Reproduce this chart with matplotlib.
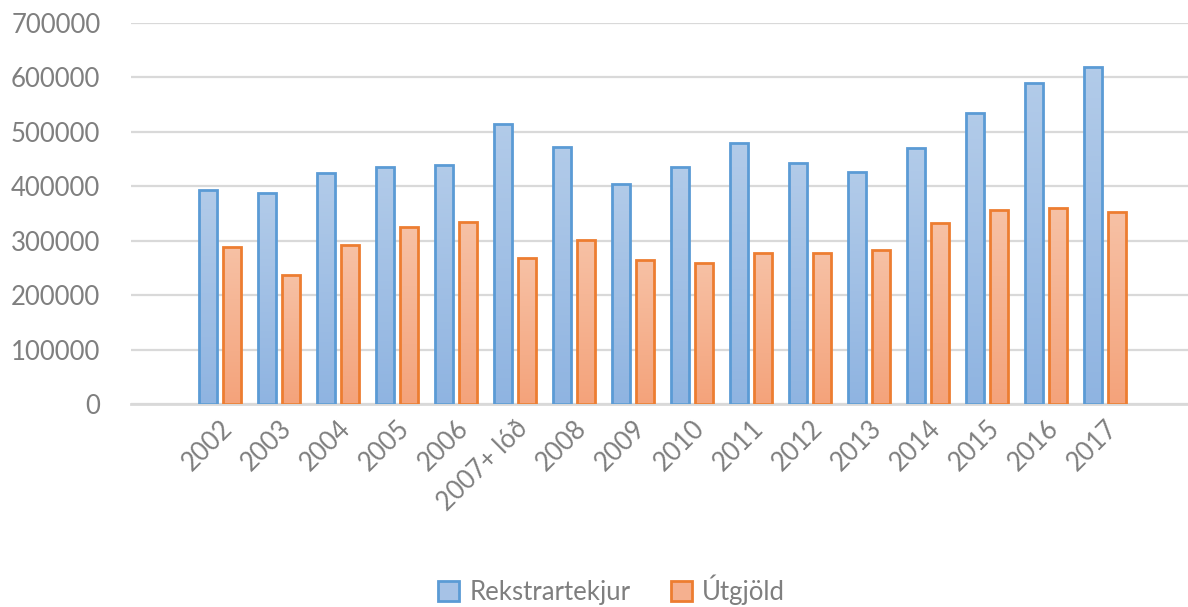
import numpy as np
import matplotlib
matplotlib.use("Agg")
import matplotlib.pyplot as plt
from matplotlib.colors import LinearSegmentedColormap

# gögn lesin af myndinni
years = ["2002", "2003", "2004", "2005", "2006", "2007+ lóð", "2008", "2009",
         "2010", "2011", "2012", "2013", "2014", "2015", "2016", "2017"]
rekstrartekjur = [393000, 387000, 424000, 436000, 439000, 515000, 472000, 405000,
                  436000, 479000, 442000, 427000, 470000, 534000, 589000, 619000]
utgjold = [289000, 237000, 292000, 326000, 335000, 268000, 301000, 265000,
           259000, 277000, 277000, 283000, 332000, 356000, 360000, 353000]

plt.rcParams["font.family"] = ["Lato", "DejaVu Sans"]
GREY = "#7f7f7f"

fig = plt.figure(figsize=(11.88, 6.07), dpi=100)
ax = fig.add_axes([131 / 1188, 0.334, (1188 - 131) / 1188, 0.6286])

x = np.arange(len(years))
w = 0.30
off = 0.203


def gradient_bars(bars, top, bottom):
    cmap = LinearSegmentedColormap.from_list("g", [bottom, top])
    grad = np.linspace(0, 1, 64).reshape(-1, 1)
    for b in bars:
        x0, y0 = b.get_x(), b.get_y()
        im = ax.imshow(grad, cmap=cmap, origin="lower", aspect="auto",
                       extent=(x0, x0 + b.get_width(), y0, y0 + b.get_height()),
                       zorder=2)
        im.set_clip_path(b)
        b.set_facecolor("none")


b1 = ax.bar(x - off, rekstrartekjur, w, edgecolor="#5b9bd5", lw=2.0,
            zorder=3, label="Rekstrartekjur", facecolor="#a6c2e6")
b2 = ax.bar(x + off, utgjold, w, edgecolor="#ed7d31", lw=2.0,
            zorder=3, label="Útgjöld", facecolor="#f5b08f")
gradient_bars(b1, "#b2cbe9", "#8fb4e1")
gradient_bars(b2, "#f7c1a5", "#f4a37b")

ax.set_xlim((131 - 220) / 59, (1188 - 220) / 59)
ax.set_ylim(0, 700000)
ax.set_yticks(np.arange(0, 700001, 100000))
ax.yaxis.grid(True, color="#d9d9d9", lw=1.6, zorder=0)
ax.set_axisbelow(True)
for s in ["top", "right", "left"]:
    ax.spines[s].set_visible(False)
ax.spines["bottom"].set_color("#d9d9d9")
ax.spines["bottom"].set_linewidth(2.0)
ax.tick_params(axis="y", length=0, pad=22, labelsize=18.5, labelcolor=GREY)
ax.tick_params(axis="x", length=0, pad=8, labelsize=18.5, labelcolor=GREY)
ax.set_xticks(x)
ax.set_xticklabels(years, rotation=45, ha="right", rotation_mode="anchor")

# legend með handföngum sem líkjast súlunum
from matplotlib.patches import Patch
handles = [Patch(facecolor="#a6c2e6", edgecolor="#5b9bd5", lw=2.0),
           Patch(facecolor="#f5b08f", edgecolor="#ed7d31", lw=2.0)]
fig.legend(handles, ["Rekstrartekjur", "Útgjöld"], loc="center",
           bbox_to_anchor=(0.515, 0.028), ncol=2, frameon=False,
           fontsize=18.5, labelcolor=GREY, handlelength=0.8, handleheight=0.8,
           handletextpad=0.4, columnspacing=1.6)

fig.savefig("out.png", dpi=100)
